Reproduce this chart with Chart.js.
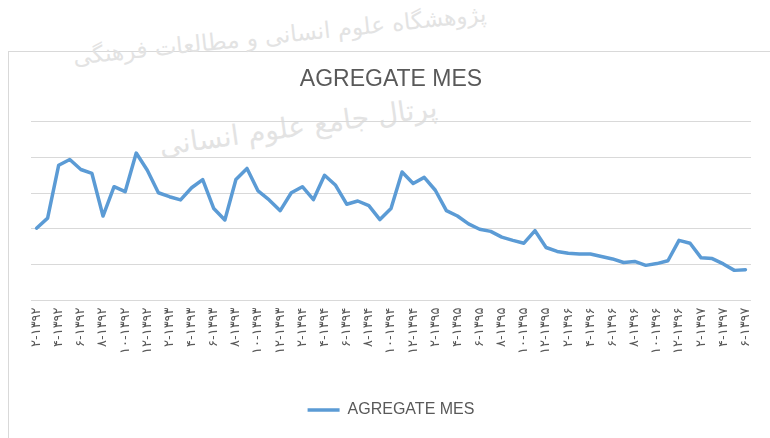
<!DOCTYPE html>
<html>
<head>
<meta charset="utf-8">
<script src="https://cdn.jsdelivr.net/npm/chart.js@4.4.1/dist/chart.umd.min.js"></script>
<style>
  body { margin: 0; background: #fff; }
  #wrap { position: relative; width: 770px; height: 438px; overflow: hidden; }
  #frame { position: absolute; left: 8px; top: 51px; width: 780px; height: 400px; border: 1px solid #d9d9d9; }
  .wm { position: absolute; font-family: "DejaVu Sans"; color: #e3e3e3; white-space: nowrap; direction: rtl; }
  #wm1 { left: 72px; top: 22px; font-size: 23px; transform: rotate(-6deg); }
  #wm2 { left: 158px; top: 110px; font-size: 28px; transform: rotate(-8deg); }
  canvas { position: absolute; left: 0; top: 0; }
</style>
</head>
<body>
<div id="wrap">
  <div id="frame"></div>
  <div class="wm" id="wm1">پژوهشگاه علوم انسانی و مطالعات فرهنگی</div>
  <div class="wm" id="wm2">پرتال جامع علوم انسانی</div>
  <canvas id="chart" width="770" height="438"></canvas>
</div>
<script>
// month labels (month-year, solar hijri)
const months = [
  "۲-۱۳۹۲","۳-۱۳۹۲","۴-۱۳۹۲","۵-۱۳۹۲","۶-۱۳۹۲","۷-۱۳۹۲","۸-۱۳۹۲","۹-۱۳۹۲","۱۰-۱۳۹۲","۱۱-۱۳۹۲","۱۲-۱۳۹۲",
  "۱-۱۳۹۳","۲-۱۳۹۳","۳-۱۳۹۳","۴-۱۳۹۳","۵-۱۳۹۳","۶-۱۳۹۳","۷-۱۳۹۳","۸-۱۳۹۳","۹-۱۳۹۳","۱۰-۱۳۹۳","۱۱-۱۳۹۳","۱۲-۱۳۹۳",
  "۱-۱۳۹۴","۲-۱۳۹۴","۳-۱۳۹۴","۴-۱۳۹۴","۵-۱۳۹۴","۶-۱۳۹۴","۷-۱۳۹۴","۸-۱۳۹۴","۹-۱۳۹۴","۱۰-۱۳۹۴","۱۱-۱۳۹۴","۱۲-۱۳۹۴",
  "۱-۱۳۹۵","۲-۱۳۹۵","۳-۱۳۹۵","۴-۱۳۹۵","۵-۱۳۹۵","۶-۱۳۹۵","۷-۱۳۹۵","۸-۱۳۹۵","۹-۱۳۹۵","۱۰-۱۳۹۵","۱۱-۱۳۹۵","۱۲-۱۳۹۵",
  "۱-۱۳۹۶","۲-۱۳۹۶","۳-۱۳۹۶","۴-۱۳۹۶","۵-۱۳۹۶","۶-۱۳۹۶","۷-۱۳۹۶","۸-۱۳۹۶","۹-۱۳۹۶","۱۰-۱۳۹۶","۱۱-۱۳۹۶","۱۲-۱۳۹۶",
  "۱-۱۳۹۷","۲-۱۳۹۷","۳-۱۳۹۷","۴-۱۳۹۷","۵-۱۳۹۷","۶-۱۳۹۷"
];

// AGREGATE MES (no y axis labels in the source)
const agregateMes = [
  2.02, 2.30, 3.78, 3.94, 3.66, 3.55, 2.36, 3.18, 3.04, 4.12, 3.64,
  3.01, 2.90, 2.81, 3.15, 3.38, 2.57, 2.25, 3.38, 3.69, 3.06, 2.81, 2.51,
  3.01, 3.18, 2.82, 3.50, 3.22, 2.69, 2.78, 2.65, 2.26, 2.57, 3.59, 3.27,
  3.44, 3.08, 2.51, 2.36, 2.14, 1.99, 1.93, 1.77, 1.68, 1.60, 1.95, 1.48,
  1.37, 1.32, 1.30, 1.30, 1.23, 1.16, 1.06, 1.09, 0.98, 1.03, 1.11, 1.68,
  1.60, 1.19, 1.17, 1.02, 0.84, 0.86
];

const yMin = 0;
const yMax = 5;
const yStep = 1;

const seriesName = "AGREGATE MES";
const lineColor = "#5b9bd5";
const textColor = "#595959";

const data = {
  labels: months,
  datasets: [
    {
      label: seriesName,
      data: agregateMes,
      borderColor: lineColor,
      backgroundColor: lineColor,
      borderWidth: 3.5,
      borderCapStyle: "round",
      borderJoinStyle: "round",
      pointRadius: 0,
      pointStyle: "line",
      tension: 0,
    },
  ],
};

const config = {
  type: "line",
  data: data,
  options: {
    responsive: false,
    animation: false,
    layout: { padding: { left: 31, right: 19, top: 0, bottom: 10 } },
    plugins: {
      title: {
        display: true,
        text: seriesName,
        color: textColor,
        font: { family: "Liberation Sans", size: 23, weight: "normal" },
        padding: { top: 66, bottom: 28 },
      },
      legend: {
        position: "bottom",
        labels: {
          color: textColor,
          font: { family: "Liberation Sans", size: 16 },
          usePointStyle: true,
          pointStyle: "line",
          pointStyleWidth: 32,
          padding: 10,
        },
      },
      tooltip: { enabled: false },
    },
    scales: {
      x: {
        offset: true,
        grid: { display: false, drawTicks: false },
        border: { display: false },
        ticks: {
          autoSkip: false,
          minRotation: 90,
          maxRotation: 90,
          padding: 7,
          color: textColor,
          font: { family: "DejaVu Sans", size: 13 },
          callback: function (val, i) {
            return i % 2 === 0 ? this.getLabelForValue(val) : "";
          },
        },
        // leave room between the labels and the legend, like the source
        afterFit: function (scale) {
          scale.height += 31;
        },
      },
      y: {
        min: yMin,
        max: yMax,
        grid: { color: "#d9d9d9", lineWidth: 1, drawTicks: false },
        border: { display: false },
        ticks: { display: false, stepSize: yStep },
      },
    },
  },
};

const chart = new Chart(document.getElementById("chart"), config);
</script>
</body>
</html>
